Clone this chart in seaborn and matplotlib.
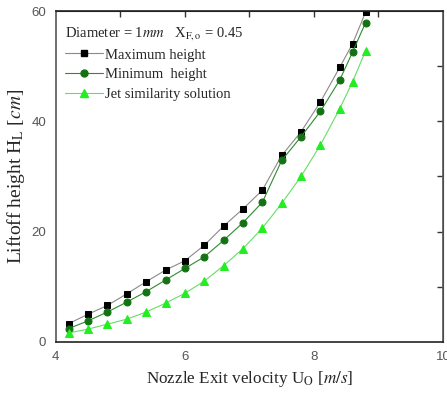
import matplotlib
matplotlib.use("Agg")
import matplotlib.pyplot as plt
import seaborn as sns
import pandas as pd
from matplotlib.ticker import MultipleLocator
from matplotlib.lines import Line2D

velocity = [4.2, 4.5, 4.8, 5.1, 5.4, 5.7, 6.0, 6.3, 6.6, 6.9, 7.2, 7.5, 7.8, 8.1, 8.4, 8.6, 8.8]
max_height = [3.3, 5.0, 6.6, 8.7, 10.9, 13.0, 14.7, 17.5, 21.0, 24.1, 27.5, 33.8, 38.1, 43.5, 49.8, 54.1, 59.8]
min_height = [2.4, 3.8, 5.4, 7.2, 9.1, 11.2, 13.3, 15.4, 18.4, 21.6, 25.3, 32.9, 37.2, 41.8, 47.5, 52.6, 57.9]
jet_height = [1.6, 2.3, 3.2, 4.1, 5.4, 7.0, 8.8, 11.0, 13.8, 16.9, 20.6, 25.1, 30.0, 35.7, 42.3, 47.2, 52.8]
series_names = ["Maximum height", "Minimum  height", "Jet similarity solution"]

sns.set_style("white")
plt.rcParams["font.family"] = ["Liberation Serif", "DejaVu Serif"]
plt.rcParams["mathtext.fontset"] = "stix"

fig = plt.figure(figsize=(4.47, 3.96), dpi=100)
ax = fig.add_axes([0.125, 0.137, 0.866, 0.835])

df = pd.DataFrame({
    "U": velocity * 3,
    "H": max_height + min_height + jet_height,
    "series": [series_names[0]] * len(velocity) + [series_names[1]] * len(velocity) + [series_names[2]] * len(velocity),
})

styles = {
    series_names[0]: dict(line="#8a8a8a", mfc="#000000", marker="s", ms=4.3),
    series_names[1]: dict(line="#2e8b2e", mfc="#137313", marker="o", ms=5),
    series_names[2]: dict(line="#66dd66", mfc="#22ee22", marker="^", ms=5.5),
}

handles = []
for name in series_names:
    st = styles[name]
    sub = df[df["series"] == name]
    sns.lineplot(data=sub, x="U", y="H", ax=ax, color=st["line"], linewidth=0.8,
                 marker=st["marker"], markersize=st["ms"], markerfacecolor=st["mfc"],
                 markeredgecolor=st["mfc"], legend=False)
    handles.append(Line2D([0], [0], color=st["line"], lw=0.8, marker=st["marker"],
                          markersize=st["ms"], markerfacecolor=st["mfc"], markeredgecolor=st["mfc"]))

ax.set_xlim(4, 10)
ax.set_ylim(0, 60)
ax.xaxis.set_major_locator(MultipleLocator(2))
ax.xaxis.set_minor_locator(MultipleLocator(1))
ax.yaxis.set_major_locator(MultipleLocator(20))
ax.yaxis.set_minor_locator(MultipleLocator(10))

ax.tick_params(axis="both", which="major", direction="out", length=5, width=1, color="#333333",
               labelsize=9.5, labelcolor="#555555", pad=2)
ax.tick_params(axis="x", which="minor", direction="in", length=3, width=1, color="#333333")
ax.tick_params(axis="y", which="minor", direction="out", length=3, width=1, color="#333333")
for lbl in ax.get_xticklabels() + ax.get_yticklabels():
    lbl.set_fontfamily(["Liberation Sans", "DejaVu Sans"])

for side in ["top", "bottom"]:
    ax.spines[side].set_linewidth(1.2)
    ax.spines[side].set_color("#222222")
for side in ["left", "right"]:
    ax.spines[side].set_linewidth(1.2)
    ax.spines[side].set_color("#555555")

secx = ax.secondary_xaxis("top")
secx.set_xticks([5, 6, 7, 8, 9])
secx.tick_params(direction="in", length=4, width=1, color="#333333", labeltop=False)
secy = ax.secondary_yaxis("right")
secy.set_yticks([10, 20, 30, 40, 50])
secy.tick_params(direction="in", length=4, width=1, color="#333333", labelright=False)

ax.set_xlabel(r"Nozzle Exit velocity U$_\mathrm{O}$ [$m/s$]", fontsize=12.3, labelpad=4)
ax.set_ylabel(r"Liftoff height H$_\mathrm{L}$ [$cm$]", fontsize=14, labelpad=3)

leg = ax.legend(handles, series_names, loc="upper left", frameon=False, fontsize=10.5,
                title=r"Diameter = 1$mm$   X$_{\mathrm{F,o}}$ = 0.45", title_fontsize=10.5,
                handlelength=2.6, handletextpad=0.2, labelspacing=0.45,
                borderaxespad=0.2, bbox_to_anchor=(0.0, 0.985))
leg._legend_box.align = "left"

fig.savefig("out.png", dpi=100)
